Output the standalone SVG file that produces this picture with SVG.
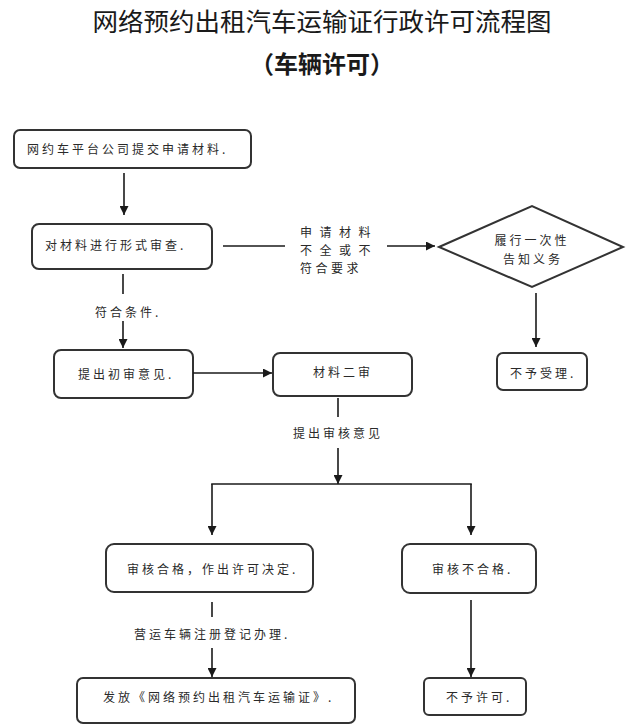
<svg xmlns="http://www.w3.org/2000/svg" width="640" height="727" viewBox="0 0 640 727">
<defs>
<marker id="arr" viewBox="0 0 10 10" refX="10" refY="5" markerWidth="9" markerHeight="9" markerUnits="userSpaceOnUse" orient="auto">
<path d="M0,0 L10,5 L0,10 z" fill="#1a1a1a"/>
</marker>
<style>
.box{fill:#fff;stroke:#333;stroke-width:2}
.t{font-family:"Noto Sans CJK SC","Noto Sans",sans-serif;font-size:12px;letter-spacing:3px;fill:#2a2a2a}
.c line{stroke:#1a1a1a;stroke-width:1.6}
.title{font-family:"Noto Sans CJK SC",sans-serif;font-size:25.5px;fill:#1a1a1a}
.sub{font-family:"Noto Sans CJK SC",sans-serif;font-size:24px;font-weight:bold;fill:#1a1a1a}
</style>
</defs>
<rect width="640" height="727" fill="#fff"/>
<text class="title" x="322" y="31" text-anchor="middle">网络预约出租汽车运输证行政许可流程图</text>
<text class="sub" x="322" y="73" text-anchor="middle">（车辆许可）</text>

<g id="n1"><rect class="box" x="14" y="130" width="237" height="38" rx="6"/><text class="t" x="27" y="154">网约车平台公司提交申请材料.</text></g>
<g id="n2"><rect class="box" x="32" y="224" width="180" height="45" rx="7"/><text class="t" x="45" y="250">对材料进行形式审查.</text></g>
<g id="n3"><rect class="box" x="54" y="350" width="139" height="48" rx="7"/><text class="t" x="78" y="379">提出初审意见.</text></g>
<g id="n4"><rect class="box" x="273" y="353" width="139" height="43" rx="7"/><text class="t" x="313" y="377">材料二审</text></g>
<g id="n5"><path class="box" d="M439,247 L532,206 L623,247 L532,287 Z"/><text class="t" x="532" y="244.5" text-anchor="middle">履行一次性</text><text class="t" x="533" y="263.5" text-anchor="middle">告知义务</text></g>
<g id="n6"><rect class="box" x="497" y="353" width="90" height="37" rx="6"/><text class="t" x="510" y="377.5">不予受理.</text></g>
<g id="n7"><rect class="box" x="106" y="544" width="207" height="48" rx="8"/><text class="t" x="127" y="574">审核合格，作出许可决定.</text></g>
<g id="n8"><rect class="box" x="402" y="544" width="134" height="49" rx="8"/><text class="t" x="432" y="574">审核不合格.</text></g>
<g id="n9"><rect class="box" x="77" y="678" width="278" height="45" rx="6"/><text class="t" x="103" y="701.5">发放《网络预约出租汽车运输证》.</text></g>
<g id="n10"><rect class="box" x="424" y="678" width="102" height="37" rx="5"/><text class="t" x="446" y="701.5">不予许可.</text></g>

<g id="connectors" class="c">
<line x1="124" y1="173" x2="124" y2="215" marker-end="url(#arr)"/>
<line x1="223" y1="246" x2="285" y2="246"/>
<line x1="387" y1="246" x2="435" y2="246" marker-end="url(#arr)"/>
<line x1="123" y1="274" x2="123" y2="294"/>
<line x1="123" y1="321" x2="123" y2="348" marker-end="url(#arr)"/>
<line x1="193" y1="373" x2="272" y2="373" marker-end="url(#arr)"/>
<line x1="338" y1="398" x2="338" y2="417"/>
<line x1="338" y1="448" x2="338" y2="484" marker-end="url(#arr)"/>
<line x1="211.2" y1="484" x2="471.8" y2="484"/>
<line x1="212" y1="484" x2="212" y2="535" marker-end="url(#arr)"/>
<line x1="471" y1="484" x2="471" y2="535" marker-end="url(#arr)"/>
<line x1="212" y1="602" x2="212" y2="617"/>
<line x1="212" y1="648" x2="212" y2="677" marker-end="url(#arr)"/>
<line x1="471" y1="600" x2="471" y2="677" marker-end="url(#arr)"/>
<line x1="536" y1="293" x2="536" y2="347" marker-end="url(#arr)"/>
</g>

<g id="labels">
<text class="t" x="300" y="236.5" style="letter-spacing:7.5px">申请材料</text>
<text class="t" x="300" y="254.5" style="letter-spacing:7.5px">不全或不</text>
<text class="t" x="300" y="272.5" style="letter-spacing:3.5px">符合要求</text>
<text class="t" x="95" y="316.5">符合条件.</text>
<text class="t" x="293" y="437.5">提出审核意见</text>
<text class="t" x="134" y="638.5">营运车辆注册登记办理.</text>
</g>
</svg>
